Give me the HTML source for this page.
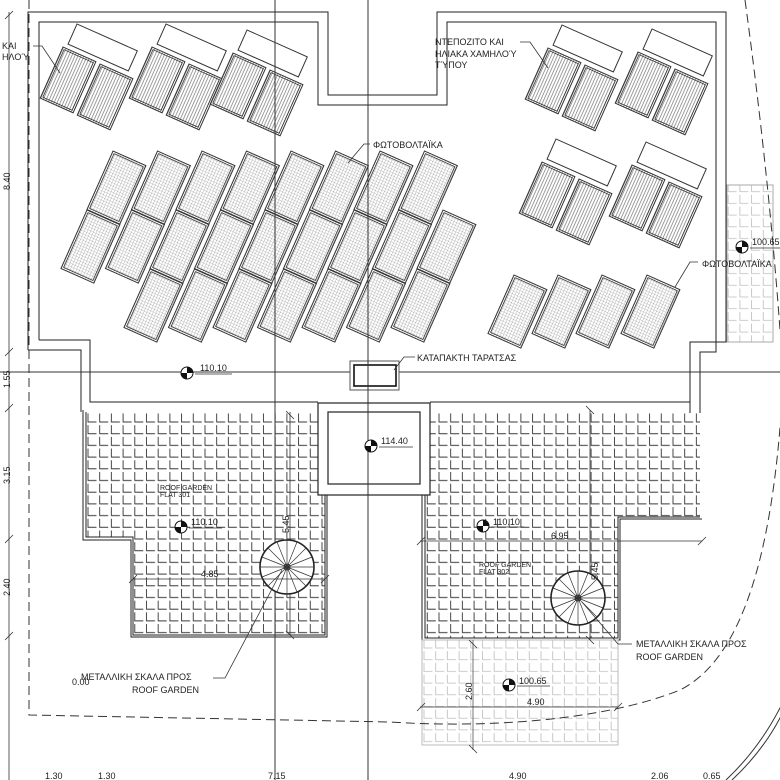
<!DOCTYPE html>
<html><head><meta charset="utf-8"><style>
html,body{margin:0;padding:0;background:#fff;}
svg{display:block;font-family:"Liberation Sans",sans-serif;}
text{fill:#222;font-size:9px;}
</style></head><body>
<svg width="780" height="780" viewBox="0 0 780 780" xmlns="http://www.w3.org/2000/svg">
<defs>
<pattern id="tile" patternUnits="userSpaceOnUse" width="11.7" height="11.7" x="86" y="412">
<path d="M2,1.5 V10 H10.5" fill="none" stroke="#333" stroke-width="0.9"/>
</pattern>
<pattern id="tileL" patternUnits="userSpaceOnUse" width="11.7" height="11.7" x="422" y="638">
<path d="M2,1.5 V10 H10.5" fill="none" stroke="#bbb" stroke-width="0.8"/>
</pattern>
<pattern id="grid" patternUnits="userSpaceOnUse" width="2.9" height="2.9">
<path d="M0,0 H2.9 M0,0 V2.9" fill="none" stroke="#888" stroke-width="0.6"/>
</pattern>
<pattern id="stripe" patternUnits="userSpaceOnUse" width="2.8" height="3">
<path d="M0.5,0 V3" fill="none" stroke="#888" stroke-width="0.8"/>
</pattern>
<g id="pv"><rect x="0" y="0" width="36" height="64" fill="url(#grid)" stroke="#333" stroke-width="1"/><rect x="2" y="2" width="32" height="60" fill="none" stroke="#333" stroke-width="0.8"/></g>
<g id="coll"><rect x="0" y="0" width="36" height="56" fill="url(#stripe)" stroke="#333" stroke-width="1"/><rect x="2" y="2" width="32" height="52" fill="none" stroke="#333" stroke-width="0.8"/></g>
<g id="tank"><rect x="0" y="0" width="66" height="22" fill="#fff" stroke="#333" stroke-width="1"/></g>
<g id="grp"><use href="#tank" transform="translate(14,-23) rotate(24)"/><use href="#coll" transform="rotate(24)"/><use href="#coll" transform="translate(37,17) rotate(24)"/></g>
<g id="elev"><circle r="6" fill="#fff" stroke="#111" stroke-width="1"/><path d="M0,0 V-6 A6,6 0 0 1 6,0 Z M0,0 V6 A6,6 0 0 1 -6,0 Z" fill="#111"/></g>
<g id="stair"><circle r="27" fill="#fff" stroke="#222" stroke-width="1.6"/><circle r="3" fill="none" stroke="#222"/>
<path d="M0,0 L27,0 M0,0 L25,10 M0,0 L19,19 M0,0 L10,25 M0,0 L0,27 M0,0 L-10,25 M0,0 L-19,19 M0,0 L-25,10 M0,0 L-27,0 M0,0 L-25,-10 M0,0 L-19,-19 M0,0 L-10,-25 M0,0 L0,-27 M0,0 L10,-25 M0,0 L19,-19 M0,0 L25,-10" stroke="#333" stroke-width="0.7"/></g>
</defs>

<path d="M86,412 H318 V495 H325 V635 H133 V537 H86 Z" fill="url(#tile)" stroke="none"/>
<path d="M83,410 V540 H131 V637 H327 V495" fill="none" stroke="#222" stroke-width="1"/>
<path d="M86,412 V537 H133 V635 H325 V495" fill="none" stroke="#222" stroke-width="1"/>
<path d="M425,413 H700 V517 H618 V638 H425 Z" fill="url(#tile)" stroke="none"/>
<path d="M422,413 V640 H620 V519 H702" fill="none" stroke="#222" stroke-width="1"/>
<path d="M425,413 V638 H618 V517 H700" fill="none" stroke="#222" stroke-width="1"/>
<rect x="422" y="640" width="196" height="105" fill="url(#tileL)" stroke="#bbb" stroke-width="1"/>
<rect x="727" y="185" width="46" height="157" fill="url(#tileL)" stroke="#aaa" stroke-width="1"/>

<path d="M28,350 V12 H328 V95 H437 V12 H726 V342 H690 V413" fill="none" stroke="#222" stroke-width="1"/>
<path d="M39,340 V22 H318 V105 H447 V22 H716 V352 H700 V413" fill="none" stroke="#222" stroke-width="1"/>
<path d="M28,350 H81 V412 M39,340 H90 V402 H318" fill="none" stroke="#222" stroke-width="1"/>
<path d="M430,402 H690" fill="none" stroke="#222" stroke-width="1"/>
<line x1="0" y1="372" x2="780" y2="372" stroke="#333" stroke-width="1"/>
<rect x="318" y="403" width="112" height="92" fill="#fff" stroke="#222" stroke-width="1.2"/>
<rect x="328" y="412" width="92" height="72" fill="#fff" stroke="#222" stroke-width="1.2"/>
<rect x="350" y="361" width="49" height="29" fill="#fff" stroke="#555" stroke-width="1"/>
<rect x="354" y="365" width="42" height="21" fill="none" stroke="#111" stroke-width="1.6"/>

<line x1="275" y1="0" x2="275" y2="780" stroke="#333" stroke-width="1"/>
<line x1="368" y1="0" x2="368" y2="780" stroke="#333" stroke-width="1"/>
<line x1="290" y1="412" x2="290" y2="635" stroke="#333" stroke-width="0.8"/>
<line x1="590" y1="410" x2="590" y2="640" stroke="#333" stroke-width="0.8"/>
<line x1="473" y1="640" x2="473" y2="750" stroke="#555" stroke-width="0.8"/>

<path d="M29,0 V715 L390,722 C480,728 600,722 680,690 C740,660 772,560 782,400" fill="none" stroke="#333" stroke-width="1" stroke-dasharray="9,5"/>
<path d="M745,0 C760,110 772,220 780,330" fill="none" stroke="#333" stroke-width="1" stroke-dasharray="9,5"/>
<path d="M726,780 Q760,748 782,704 M732,780 Q764,750 782,714" fill="none" stroke="#333" stroke-width="1"/>

<use href="#grp" x="63" y="47"/>
<use href="#grp" x="152" y="47"/>
<use href="#grp" x="233" y="53"/>
<use href="#grp" x="548" y="48"/>
<use href="#grp" x="638" y="52"/>
<use href="#grp" x="542" y="162"/>
<use href="#grp" x="632" y="165"/>

<g>
<use href="#pv" transform="translate(113,151) rotate(24)"/>
<use href="#pv" transform="translate(157.5,151) rotate(24)"/>
<use href="#pv" transform="translate(202,151) rotate(24)"/>
<use href="#pv" transform="translate(246.5,151) rotate(24)"/>
<use href="#pv" transform="translate(291,151) rotate(24)"/>
<use href="#pv" transform="translate(335.5,151) rotate(24)"/>
<use href="#pv" transform="translate(380,151) rotate(24)"/>
<use href="#pv" transform="translate(424.5,151) rotate(24)"/>
<use href="#pv" transform="translate(87,210) rotate(24)"/>
<use href="#pv" transform="translate(131.5,210) rotate(24)"/>
<use href="#pv" transform="translate(176,210) rotate(24)"/>
<use href="#pv" transform="translate(220.5,210) rotate(24)"/>
<use href="#pv" transform="translate(265,210) rotate(24)"/>
<use href="#pv" transform="translate(309.5,210) rotate(24)"/>
<use href="#pv" transform="translate(354,210) rotate(24)"/>
<use href="#pv" transform="translate(398.5,210) rotate(24)"/>
<use href="#pv" transform="translate(443,210) rotate(24)"/>
<use href="#pv" transform="translate(150,269) rotate(24)"/>
<use href="#pv" transform="translate(194.5,269) rotate(24)"/>
<use href="#pv" transform="translate(239,269) rotate(24)"/>
<use href="#pv" transform="translate(283.5,269) rotate(24)"/>
<use href="#pv" transform="translate(328,269) rotate(24)"/>
<use href="#pv" transform="translate(372.5,269) rotate(24)"/>
<use href="#pv" transform="translate(417,269) rotate(24)"/>
<use href="#pv" transform="translate(514,275) rotate(24)"/>
<use href="#pv" transform="translate(558,275) rotate(24)"/>
<use href="#pv" transform="translate(602,275) rotate(24)"/>
<use href="#pv" transform="translate(647,275) rotate(24)"/>
</g>
<line x1="275" y1="0" x2="275" y2="372" stroke="#333" stroke-width="1"/>
<line x1="368" y1="0" x2="368" y2="372" stroke="#333" stroke-width="1"/>

<use href="#stair" x="287" y="567"/>
<use href="#stair" x="578" y="598"/>

<g stroke="#333" stroke-width="0.8" fill="none">
<line x1="9" y1="12" x2="9" y2="780"/>
<path d="M5,19 L13,11 M5,356 L13,348 M5,412 L13,404 M5,543 L13,535 M5,640 L13,632"/>
<line x1="133" y1="579" x2="325" y2="579"/><path d="M129,583 L137,575 M321,583 L329,575"/>
<path d="M286,411 L294,419 M286,631 L294,639"/>
<line x1="420" y1="541" x2="702" y2="541"/><path d="M417,545 L425,537 M698,545 L706,537"/>
<path d="M586,406 L594,414 M586,636 L594,644"/>
<line x1="420" y1="707" x2="618" y2="707"/><path d="M417,711 L425,703 M614,711 L622,703"/>
<path d="M469,640 L477,648 M469,745 L477,753"/>
<path d="M33,46 H42 L60,73"/>
<path d="M520,42 H530 L548,68"/>
<path d="M370,144 H364 L348,163"/>
<path d="M698,262 H690 L675,287"/>
<path d="M415,357 H404 L394,370"/>
<path d="M213,678 H225 L282,570"/>
<path d="M632,644 H618 L582,602"/>
</g>

<use href="#elev" x="187" y="373"/>
<use href="#elev" x="742" y="247"/>
<use href="#elev" x="371" y="446"/>
<use href="#elev" x="181" y="527"/>
<use href="#elev" x="483" y="526"/>
<use href="#elev" x="509" y="685"/>
<g stroke="#333" stroke-width="0.8">
<line x1="195" y1="374" x2="232" y2="374"/>
<line x1="750" y1="248" x2="780" y2="248"/>
<line x1="379" y1="447" x2="413" y2="447"/>
<line x1="189" y1="528" x2="222" y2="528"/>
<line x1="491" y1="527" x2="524" y2="527"/>
<line x1="517" y1="686" x2="550" y2="686"/>
</g>
<text x="200" y="371">110.10</text>
<text x="752" y="245">100.65</text>
<text x="381" y="444">114.40</text>
<text x="191" y="525">110.10</text>
<text x="493" y="525">110.10</text>
<text x="519" y="684">100.65</text>

<text x="2" y="49">ΚΑΙ</text>
<text x="2" y="60">ΗΛΟΎ</text>
<text x="435" y="45">ΝΤΕΠΟΖΙΤΟ ΚΑΙ</text>
<text x="435" y="57">ΗΛΙΑΚΑ ΧΑΜΗΛΟΎ</text>
<text x="435" y="68">ΤΎΠΟΥ</text>
<text x="373" y="148">ΦΩΤΟΒΟΛΤΑΪΚΑ</text>
<text x="702" y="267">ΦΩΤΟΒΟΛΤΑΪΚΑ</text>
<text x="417" y="361">ΚΑΤΑΠΑΚΤΗ ΤΑΡΑΤΣΑΣ</text>
<text x="160" y="490" style="font-size:7px">ROOF GARDEN</text>
<text x="160" y="497" style="font-size:7px">FLAT 301</text>
<text x="479" y="567" style="font-size:7px">ROOF GARDEN</text>
<text x="479" y="574" style="font-size:7px">FLAT 302</text>
<text x="201" y="577">4.85</text>
<text x="551" y="539">6.95</text>
<text x="527" y="705">4.90</text>
<text transform="translate(289,533) rotate(-90)">5.45</text>
<text transform="translate(472,700) rotate(-90)">2.60</text>
<text transform="translate(598,580) rotate(-90)">5.45</text>
<text x="72" y="685">0.00</text>
<text x="81" y="680">ΜΕΤΑΛΛΙΚΗ ΣΚΑΛΑ ΠΡΟΣ</text>
<text x="132" y="693">ROOF GARDEN</text>
<text x="636" y="647">ΜΕΤΑΛΛΙΚΗ ΣΚΑΛΑ ΠΡΟΣ</text>
<text x="636" y="660">ROOF GARDEN</text>
<text transform="translate(10,190) rotate(-90)">8.40</text>
<text transform="translate(10,388) rotate(-90)">1.55</text>
<text transform="translate(10,484) rotate(-90)">3.15</text>
<text transform="translate(10,596) rotate(-90)">2.40</text>
<text x="45" y="779">1.30</text>
<text x="98" y="779">1.30</text>
<text x="268" y="779">7.15</text>
<text x="509" y="779">4.90</text>
<text x="651" y="779">2.06</text>
<text x="703" y="779">0.65</text>
</svg>
</body></html>
